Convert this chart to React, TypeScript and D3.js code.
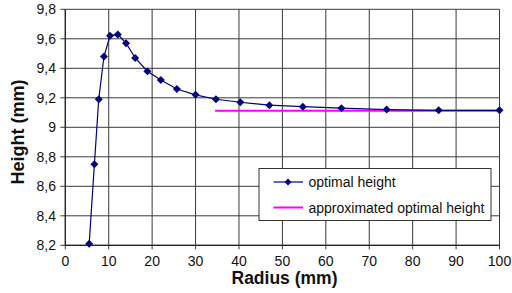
import React from "react";
import * as d3 from "d3";

const radius = [5.5, 6.7, 7.7, 8.9, 10.3, 12.1, 14.0, 16.1, 18.9, 22.0, 25.7, 30.0, 34.7, 40.3, 47.0, 54.7, 63.6, 74.0, 86.0, 100];
const height = [8.21, 8.75, 9.19, 9.48, 9.62, 9.63, 9.57, 9.47, 9.38, 9.32, 9.26, 9.22, 9.19, 9.17, 9.15, 9.14, 9.13, 9.12, 9.115, 9.115];
const approxX = [34.5, 100];
const approxY = [9.113, 9.113];
const xTicks = [0, 10, 20, 30, 40, 50, 60, 70, 80, 90, 100];
const yTicks = [8.2, 8.4, 8.6, 8.8, 9.0, 9.2, 9.4, 9.6, 9.8];
const legendLabels = ["optimal height", "approximated optimal height"];

const W = 512, H = 293;
const L = 65.3, R = 499.5, T = 9.3, B = 245.3;

export default function App() {
  const x = d3.scaleLinear().domain([0, 100]).range([L, R]);
  const y = d3.scaleLinear().domain([8.2, 9.8]).range([B, T]);
  const line = d3.line<number>().x((_, i) => x(radius[i])).y((d) => y(d));
  const approxLine = d3.line<number>().x((_, i) => x(approxX[i])).y((d) => y(d));
  const fmt = (v: number) => (Math.abs(v - 9) < 1e-9 ? "9" : v.toFixed(1).replace(".", ","));
  const diamond = (cx: number, cy: number, r = 4) => `M${cx},${cy - r}L${cx + r},${cy}L${cx},${cy + r}L${cx - r},${cy}Z`;
  const grid = "#3a3a3a";
  const font = "Liberation Sans, Arial, sans-serif";
  return (
    <svg width={W} height={H} style={{ position: "absolute", left: 0, top: 0, background: "#fff" }} fontFamily={font}>
      <rect x={0} y={0} width={W} height={H} fill="#fff" />
      {xTicks.map((t) => (
        <line key={"gx" + t} x1={x(t)} x2={x(t)} y1={T} y2={B + 4} stroke={grid} strokeWidth={1} />
      ))}
      {yTicks.map((t) => (
        <line key={"gy" + t} x1={L - 5} x2={R} y1={y(t)} y2={y(t)} stroke={grid} strokeWidth={1} />
      ))}
      <line x1={L} x2={L} y1={T} y2={B} stroke="#222" strokeWidth={1.2} />
      <line x1={L} x2={R} y1={B} y2={B} stroke="#222" strokeWidth={1.2} />
      {xTicks.map((t) => (
        <text key={"tx" + t} x={x(t)} y={266} textAnchor="middle" fontSize={14} fill="#111">{t}</text>
      ))}
      {yTicks.map((t) => (
        <text key={"ty" + t} x={56} y={y(t) + 5} textAnchor="end" fontSize={14} fill="#111">{fmt(t)}</text>
      ))}
      <path d={approxLine(approxY) || ""} stroke="#ff00ff" strokeWidth={2} fill="none" />
      <path d={line(height) || ""} stroke="#000080" strokeWidth={1.2} fill="none" />
      {height.map((h, i) => (
        <path key={"m" + i} d={diamond(x(radius[i]), y(h))} fill="#000080" />
      ))}
      <text x={284.5} y={284} textAnchor="middle" fontSize={17.5} fontWeight="bold" fill="#111">Radius (mm)</text>
      <text transform={`translate(24,132) rotate(-90)`} textAnchor="middle" fontSize={18} fontWeight="bold" fill="#111">Height (mm)</text>
      <rect x={259} y={168.5} width={232} height={52} fill="#fff" stroke="#333" strokeWidth={1} />
      <line x1={273.5} x2={303} y1={182} y2={182} stroke="#000080" strokeWidth={1.2} />
      <path d={diamond(288, 182, 3.5)} fill="#000080" />
      <line x1={273.5} x2={303} y1={207.5} y2={207.5} stroke="#ff00ff" strokeWidth={2} />
      <text x={308.5} y={187} fontSize={14} fill="#111">{legendLabels[0]}</text>
      <text x={308.5} y={212.5} fontSize={14} fill="#111">{legendLabels[1]}</text>
    </svg>
  );
}
